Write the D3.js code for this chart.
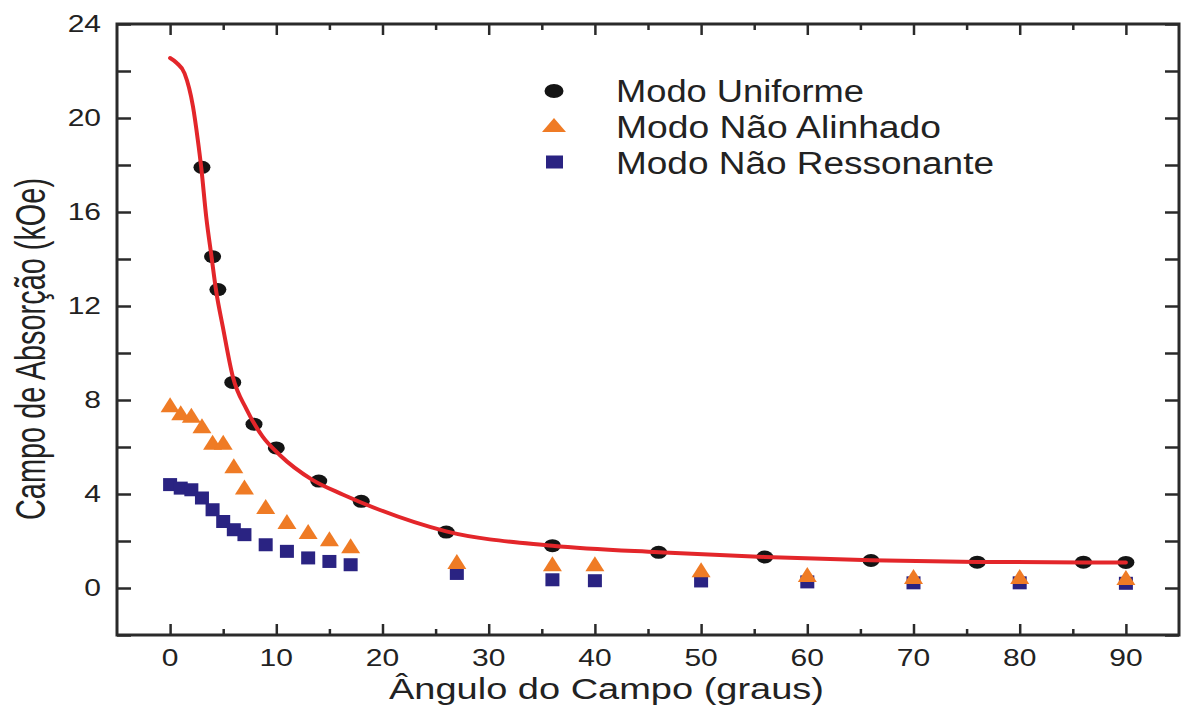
<!DOCTYPE html>
<html>
<head>
<meta charset="utf-8">
<script src="https://cdn.jsdelivr.net/npm/d3@7"></script>
<style>
  html, body { margin: 0; padding: 0; background: #fff; }
  svg { display: block; font-family: "Liberation Sans", Arial, sans-serif; }
</style>
</head>
<body>
<svg id="chart" width="1186" height="708"></svg>
<script>
// Field angle (degrees) for each measured mode
const uniformX = [3, 4, 4.5, 5.9, 7.9, 10, 14, 18, 26, 36, 46, 56, 66, 76, 86, 90];
const uniformY = [17.9, 14.1, 12.7, 8.75, 6.97, 5.96, 4.55, 3.69, 2.38, 1.8, 1.52, 1.32, 1.17, 1.1, 1.1, 1.09];

const unalignedX = [0, 1, 2, 3, 4, 5, 6, 7, 9, 11, 13, 15, 17, 27, 36, 40, 50, 60, 70, 80, 90];
const unalignedY = [7.8, 7.46, 7.35, 6.9, 6.2, 6.2, 5.2, 4.3, 3.47, 2.83, 2.4, 2.1, 1.8, 1.13, 1.03, 1.03, 0.78, 0.57, 0.49, 0.49, 0.45];

const nonresX = [0, 1, 2, 3, 4, 5, 6, 7, 9, 11, 13, 15, 17, 27, 36, 40, 50, 60, 70, 80, 90];
const nonresY = [4.4, 4.25, 4.18, 3.83, 3.33, 2.83, 2.48, 2.27, 1.84, 1.56, 1.28, 1.13, 0.99, 0.62, 0.35, 0.31, 0.3, 0.26, 0.22, 0.22, 0.2];

// Fitted curve for the uniform mode
const fitX = [0, 0.6, 1.36, 2.15, 2.6, 2.93, 3.4, 3.9, 4.35, 4.97, 5.9, 7.2, 8.7, 10.3, 13.4, 16.3, 19.7, 26, 36, 46, 56, 66, 76, 86, 90];
const fitY = [22.55, 22.35, 21.9, 20.5, 19.1, 17.9, 15.8, 14.1, 12.6, 11.1, 9.0, 7.6, 6.45, 5.67, 4.6, 3.97, 3.33, 2.41, 1.8, 1.52, 1.32, 1.18, 1.11, 1.09, 1.09];

const xMajorTicks = [0, 10, 20, 30, 40, 50, 60, 70, 80, 90];
const xMinorTicks = [5, 15, 25, 35, 45, 55, 65, 75, 85];
const yTicks = [-2, 0, 2, 4, 6, 8, 10, 12, 14, 16, 18, 20, 22, 24];
const yLabelTicks = [0, 4, 8, 12, 16, 20, 24];

const legendLabels = ["Modo Uniforme", "Modo Não Alinhado", "Modo Não Ressonante"];
const xTitle = "Ângulo do Campo (graus)";
const yTitle = "Campo de Absorção (kOe)";

const colors = { uniform: "#141414", unaligned: "#ef7b25", nonres: "#2a2382", fit: "#e3262a", axis: "#2a2a2a", text: "#222" };

const svg = d3.select("#chart");
const plot = { left: 117, right: 1179, top: 24, bottom: 635 };

const x = d3.scaleLinear().domain([-5, 95]).range([plot.left, plot.right]);
const y = d3.scaleLinear().domain([-2, 24]).range([plot.bottom, plot.top]);

// Tick marks (inward) on all four sides
function styleAxis(g) {
  g.select(".domain").remove();
  g.selectAll(".tick line").attr("stroke", colors.axis).attr("stroke-width", 2.5);
  g.selectAll("text").remove();
}
svg.append("g").attr("transform", `translate(0,${plot.bottom})`)
  .call(d3.axisBottom(x).tickValues(xMajorTicks).tickSize(-11)).call(styleAxis);
svg.append("g").attr("transform", `translate(0,${plot.bottom})`)
  .call(d3.axisBottom(x).tickValues(xMinorTicks).tickSize(-6)).call(styleAxis);
svg.append("g").attr("transform", `translate(0,${plot.top})`)
  .call(d3.axisTop(x).tickValues(xMajorTicks).tickSize(-11)).call(styleAxis);
svg.append("g").attr("transform", `translate(0,${plot.top})`)
  .call(d3.axisTop(x).tickValues(xMinorTicks).tickSize(-6)).call(styleAxis);
svg.append("g").attr("transform", `translate(${plot.left},0)`)
  .call(d3.axisLeft(y).tickValues(yTicks).tickSize(-14)).call(styleAxis);
svg.append("g").attr("transform", `translate(${plot.right},0)`)
  .call(d3.axisRight(y).tickValues(yTicks).tickSize(-14)).call(styleAxis);

// Frame
svg.append("rect")
  .attr("x", plot.left).attr("y", plot.top)
  .attr("width", plot.right - plot.left).attr("height", plot.bottom - plot.top)
  .attr("fill", "none").attr("stroke", colors.axis).attr("stroke-width", 3);

// Tick labels
const tickFont = 24, stretch = 1.25;
svg.append("g").selectAll("text").data(xMajorTicks).join("text")
  .attr("transform", d => `translate(${x(d)},666) scale(${stretch},1)`)
  .attr("text-anchor", "middle")
  .attr("font-size", tickFont).attr("fill", colors.text)
  .text(d => d);
svg.append("g").selectAll("text").data(yLabelTicks).join("text")
  .attr("transform", d => `translate(101,${y(d)}) scale(${stretch},1)`)
  .attr("text-anchor", "end").attr("dy", "0.35em")
  .attr("font-size", tickFont).attr("fill", colors.text)
  .text(d => d);

// Axis titles
svg.append("text")
  .attr("x", 389).attr("y", 699)
  .attr("font-size", 29).attr("fill", colors.text)
  .attr("textLength", 435).attr("lengthAdjust", "spacingAndGlyphs")
  .text(xTitle);
svg.append("text")
  .attr("transform", "translate(45,349) scale(1.5,1) rotate(-90)")
  .attr("text-anchor", "middle")
  .attr("font-size", 28).attr("fill", colors.text)
  .attr("textLength", 342).attr("lengthAdjust", "spacingAndGlyphs")
  .text(yTitle);

// Marker shapes
const triPath = (w, h) => `M0,${-h / 2}L${w / 2},${h / 2}L${-w / 2},${h / 2}Z`;

const nonres = nonresX.map((d, i) => ({ x: d, y: nonresY[i] }));
const unaligned = unalignedX.map((d, i) => ({ x: d, y: unalignedY[i] }));
const uniform = uniformX.map((d, i) => ({ x: d, y: uniformY[i] }));
const fit = fitX.map((d, i) => ({ x: d, y: fitY[i] }));

svg.append("g").selectAll("rect").data(nonres).join("rect")
  .attr("x", d => x(d.x) - 7).attr("y", d => y(d.y) - 6.5)
  .attr("width", 14).attr("height", 13)
  .attr("fill", colors.nonres);

svg.append("g").selectAll("path").data(unaligned).join("path")
  .attr("transform", d => `translate(${x(d.x)},${y(d.y)})`)
  .attr("d", triPath(19, 15))
  .attr("fill", colors.unaligned);

svg.append("g").selectAll("ellipse").data(uniform).join("ellipse")
  .attr("cx", d => x(d.x)).attr("cy", d => y(d.y))
  .attr("rx", 8.5).attr("ry", 6.5)
  .attr("fill", colors.uniform);

svg.append("path").datum(fit)
  .attr("fill", "none").attr("stroke", colors.fit).attr("stroke-width", 4)
  .attr("stroke-linejoin", "round").attr("stroke-linecap", "round")
  .attr("d", d3.line().x(d => x(d.x)).y(d => y(d.y)).curve(d3.curveMonotoneX));

// Legend
const legend = svg.append("g");
const legendY = [91, 125, 162];
const legendBase = [102, 138, 174];
const legendWidths = [248, 325, 378];
legend.append("ellipse").attr("cx", 554).attr("cy", legendY[0]).attr("rx", 9.5).attr("ry", 7).attr("fill", colors.uniform);
legend.append("path").attr("transform", `translate(554,${legendY[1]})`).attr("d", triPath(24, 14)).attr("fill", colors.unaligned);
legend.append("rect").attr("x", 546).attr("y", legendY[2] - 6.5).attr("width", 17).attr("height", 13).attr("fill", colors.nonres);
legend.selectAll("text").data(legendLabels).join("text")
  .attr("x", 616).attr("y", (d, i) => legendBase[i])
  .attr("font-size", 31).attr("fill", colors.text)
  .attr("textLength", (d, i) => legendWidths[i]).attr("lengthAdjust", "spacingAndGlyphs")
  .text(d => d);
</script>
</body>
</html>
